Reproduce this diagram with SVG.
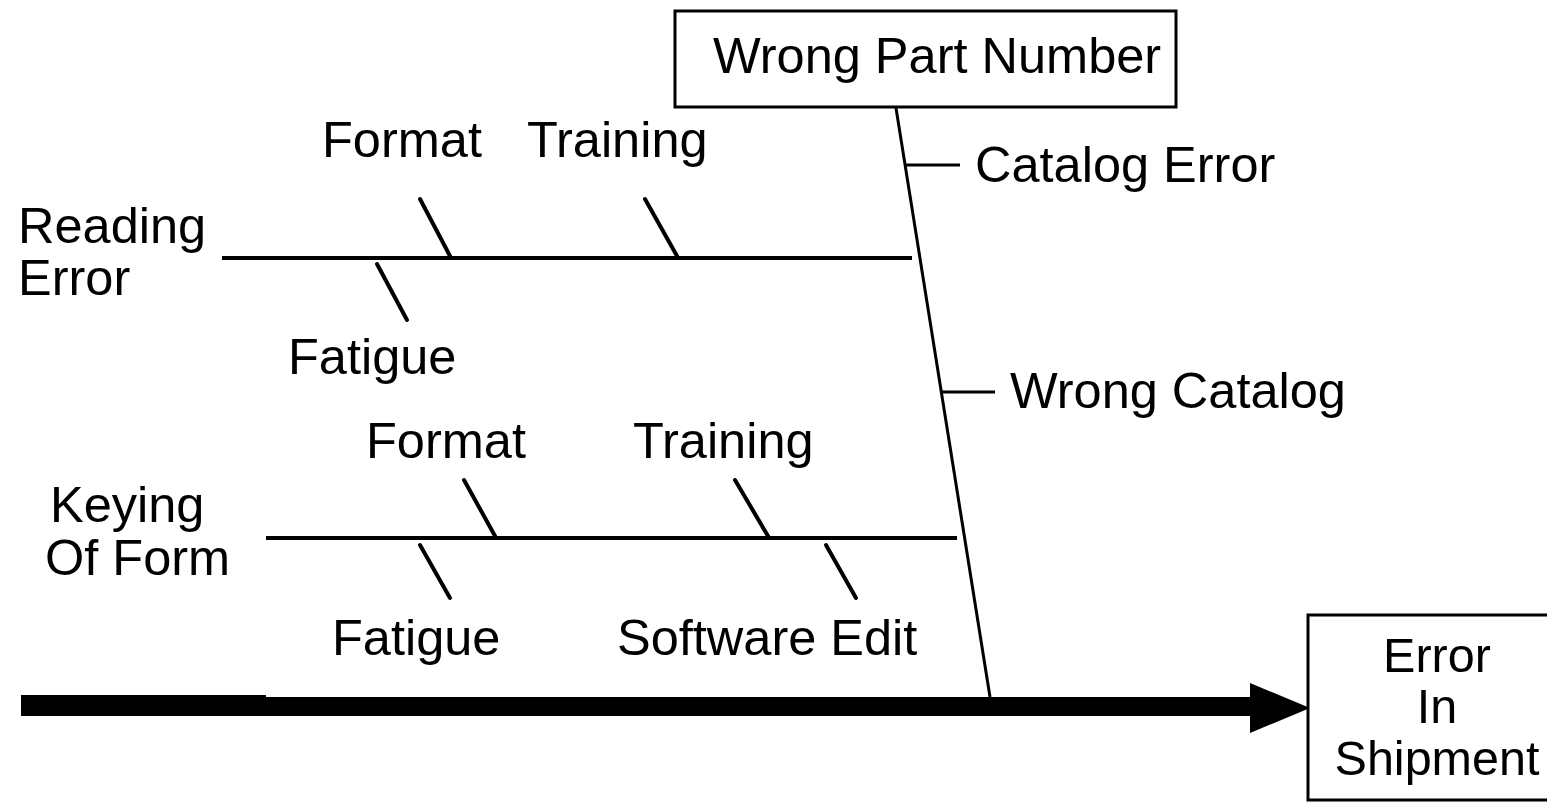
<svg xmlns="http://www.w3.org/2000/svg" width="1547" height="802" viewBox="0 0 1547 802">
  <style>
    text { font-family: "Liberation Sans", Arial, sans-serif; font-size: 50.5px; fill: #000; }
    .effect text { font-size: 48.5px; }
    .box { fill: #fff; stroke: #000; stroke-width: 3; }
    .bone { stroke: #000; stroke-width: 4; fill: none; }
    .rib { stroke: #000; stroke-width: 4; fill: none; stroke-linecap: round; }
    .thin { stroke: #000; stroke-width: 3; fill: none; }
  </style>

  <g id="connectors">
    <!-- main spine into the effect -->
    <rect x="21" y="695" width="245" height="21" fill="#000"/>
    <rect x="21" y="697" width="1234" height="19" fill="#000"/>
    <polygon points="1250,683 1310,708 1250,733" fill="#000"/>
    <!-- category bone from Wrong Part Number -->
    <line class="thin" x1="896" y1="108" x2="990" y2="697"/>
    <line class="thin" x1="905" y1="165" x2="960" y2="165"/>
    <line class="thin" x1="941" y1="392" x2="995" y2="392"/>
    <!-- Reading Error branch -->
    <line class="bone" x1="222" y1="258" x2="912" y2="258"/>
    <line class="rib" x1="420" y1="199" x2="450" y2="256"/>
    <line class="rib" x1="645" y1="199" x2="677" y2="256"/>
    <line class="rib" x1="377" y1="264" x2="407" y2="320"/>
    <!-- Keying Of Form branch -->
    <line class="bone" x1="266" y1="538" x2="957" y2="538"/>
    <line class="rib" x1="464" y1="480" x2="495" y2="536"/>
    <line class="rib" x1="735" y1="480" x2="768" y2="536"/>
    <line class="rib" x1="420" y1="545" x2="450" y2="598"/>
    <line class="rib" x1="826" y1="545" x2="856" y2="598"/>
  </g>

  <g id="wrong-part-number">
    <rect class="box" x="675" y="11" width="501" height="96"/>
    <text x="713" y="73">Wrong Part Number</text>
  </g>
  <g id="catalog-error"><text x="975" y="182">Catalog Error</text></g>
  <g id="wrong-catalog"><text x="1010" y="408">Wrong Catalog</text></g>

  <g id="reading-error">
    <text x="18" y="243">Reading</text>
    <text x="18" y="295">Error</text>
  </g>
  <g id="reading-format"><text x="322" y="157">Format</text></g>
  <g id="reading-training"><text x="527" y="157">Training</text></g>
  <g id="reading-fatigue"><text x="288" y="374">Fatigue</text></g>

  <g id="keying-of-form">
    <text x="50" y="522">Keying</text>
    <text x="45" y="575">Of Form</text>
  </g>
  <g id="keying-format"><text x="366" y="458">Format</text></g>
  <g id="keying-training"><text x="633" y="458">Training</text></g>
  <g id="keying-fatigue"><text x="332" y="655">Fatigue</text></g>
  <g id="software-edit"><text x="617" y="655">Software Edit</text></g>

  <g id="error-in-shipment" class="effect">
    <rect class="box" x="1308" y="615" width="245" height="185"/>
    <text x="1437" y="672" text-anchor="middle">Error</text>
    <text x="1437" y="723" text-anchor="middle">In</text>
    <text x="1437" y="775" text-anchor="middle">Shipment</text>
  </g>
</svg>
